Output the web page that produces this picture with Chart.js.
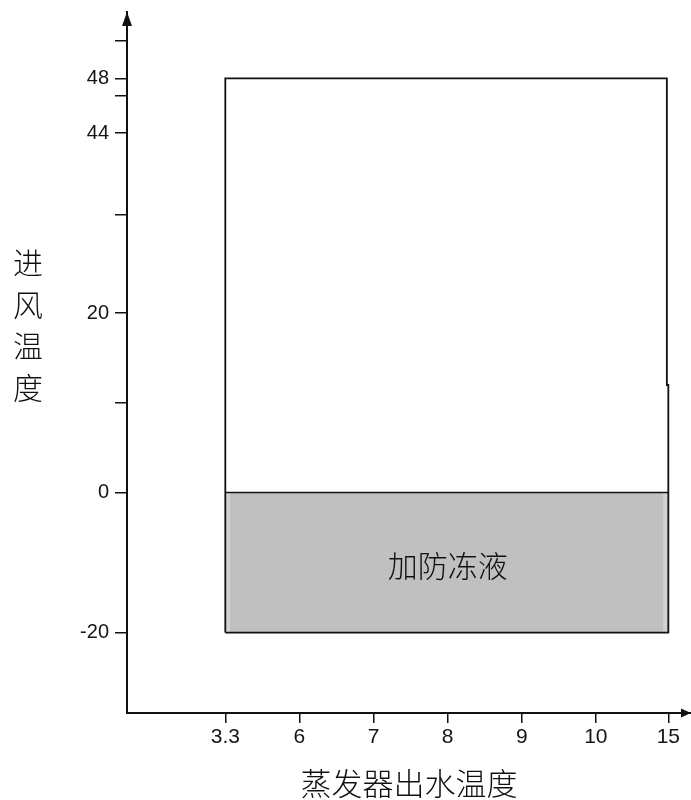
<!DOCTYPE html>
<html>
<head>
<meta charset="utf-8">
<script src="https://cdn.jsdelivr.net/npm/chart.js@4.4.1/dist/chart.umd.min.js"></script>
<style>
  html, body { margin: 0; padding: 0; background: #fff; }
  #wrap { width: 691px; height: 800px; }
</style>
</head>
<body>
<div id="wrap"><canvas id="chart"></canvas></div>
<script>
// x: evaporator leaving water temperature, ticks drawn evenly spaced
const xTicks = [3.3, 6, 7, 8, 9, 10, 15];
const xLabels = ["3.3", "6", "7", "8", "9", "10", "15"];
// y: inlet air temperature, unlabeled ticks get a blank label
const yTicks = [-20, 0, 10, 20, 33, 44, 47, 48, 52];
const yLabels = ["-20", "0", "", "20", "", "44", "", "48", ""];

// operating envelope outline
const envX = [3.3, 3.3, 14.9, 14.9, 15, 15, 3.3];
const envY = [-20, 48, 48, 12, 12, -20, -20];

// antifreeze zone
const glycolX = [3.3, 15];
const glycolInnerX = [3.47, 14.65];
const glycolTop = 0;
const glycolBottom = -20;
const glycolText = "加防冻液";
const glycolTextAt = [8, -10.5];

const xTitle = "蒸发器出水温度";
const yTitle = ["进", "风", "温", "度"];

// the drawing is not to scale, so each axis maps value -> fraction of axis length piecewise
const knots = {
  x: [[-0.28, 0], [3.3, 0.1743], [6, 0.3057], [7, 0.4371], [8, 0.5685], [9, 0.6999], [10, 0.8313], [15, 0.9598], [16.56, 1]],
  y: [[-31.5, 0], [-20, 0.1148], [0, 0.3146], [10, 0.4422], [20, 0.5706], [33, 0.7104], [44, 0.8274], [47, 0.8802], [48, 0.9054], [52, 0.9586], [55.1, 1]]
};

class KnotScale extends Chart.LinearScale {
  decimalFor(v) {
    const k = knots[this.id];
    let i = 0;
    while (i < k.length - 2 && v > k[i + 1][0]) i++;
    const [v0, d0] = k[i], [v1, d1] = k[i + 1];
    return d0 + (v - v0) / (v1 - v0) * (d1 - d0);
  }
  getPixelForValue(v) {
    if (v === null || v === undefined) return NaN;
    return this.getPixelForDecimal(this.decimalFor(v));
  }
  getValueForPixel(p) {
    const k = knots[this.id];
    const d = this.getDecimalForPixel(p);
    let i = 0;
    while (i < k.length - 2 && d > k[i + 1][1]) i++;
    const [v0, d0] = k[i], [v1, d1] = k[i + 1];
    return v0 + (d - d0) / (d1 - d0) * (v1 - v0);
  }
}
KnotScale.id = "knot";
KnotScale.defaults = Chart.LinearScale.defaults;
Chart.register(KnotScale);

const pts = (xs, ys) => xs.map((x, i) => ({ x: x, y: Array.isArray(ys) ? ys[i] : ys }));

const decor = {
  id: "decor",
  afterDraw(chart) {
    const { ctx, chartArea: a, scales: { x, y } } = chart;
    ctx.save();
    ctx.fillStyle = "#111";
    // axis arrows
    ctx.beginPath();
    ctx.moveTo(a.left, a.top);
    ctx.lineTo(a.left - 5, a.top + 14);
    ctx.lineTo(a.left + 5, a.top + 14);
    ctx.closePath();
    ctx.fill();
    ctx.beginPath();
    ctx.moveTo(a.right, a.bottom);
    ctx.lineTo(a.right - 10, a.bottom - 4.5);
    ctx.lineTo(a.right - 10, a.bottom + 4.5);
    ctx.closePath();
    ctx.fill();
    // label inside the grey zone
    ctx.textAlign = "center";
    ctx.textBaseline = "middle";
    ctx.font = '300 30px "Noto Sans CJK SC"';
    ctx.fillText(glycolText, x.getPixelForValue(glycolTextAt[0]), y.getPixelForValue(glycolTextAt[1]));
    // stacked y title
    yTitle.forEach((c, i) => ctx.fillText(c, 28, 263 + i * 41.5));
    ctx.restore();
  }
};

const ctx = document.getElementById("chart").getContext("2d");
// datasets are painted last-to-first, so outlines come first and the pale fill last
const chart = new Chart(ctx, {
  type: "line",
  data: {
    datasets: [
      {
        data: pts(envX, envY),
        borderColor: "#111",
        borderWidth: 1.8,
        fill: false,
        pointRadius: 0,
        tension: 0
      },
      {
        data: pts(glycolX, glycolTop),
        borderColor: "#111",
        borderWidth: 1.5,
        fill: false,
        pointRadius: 0
      },
      {
        data: pts(glycolInnerX, glycolTop),
        fill: { value: glycolBottom },
        backgroundColor: "#c0c0c0",
        borderWidth: 0,
        pointRadius: 0
      },
      {
        data: pts(glycolX, glycolTop),
        fill: { value: glycolBottom },
        backgroundColor: "#d2d2d2",
        borderWidth: 0,
        pointRadius: 0
      }
    ]
  },
  options: {
    responsive: true,
    maintainAspectRatio: false,
    animation: false,
    layout: { padding: { top: 12, left: 0, right: 0, bottom: 0 } },
    plugins: { legend: { display: false }, tooltip: { enabled: false } },
    scales: {
      x: {
        type: "knot",
        min: knots.x[0][0],
        max: knots.x[knots.x.length - 1][0],
        afterBuildTicks: (s) => { s.ticks = xTicks.map((v) => ({ value: v })); },
        afterFit: (s) => { s.height = 87; s.paddingLeft = 0; s.paddingRight = 0; },
        border: { display: true, color: "#111", width: 2 },
        grid: { drawOnChartArea: false, drawTicks: true, tickLength: 10, color: "#111", lineWidth: 1.5 },
        ticks: {
          autoSkip: false,
          maxRotation: 0,
          padding: 2,
          color: "#151515",
          font: { family: "'Liberation Sans', Arial", size: 21 },
          callback: (v, i) => xLabels[i]
        },
        title: {
          display: true,
          text: xTitle,
          color: "#111",
          font: { family: "'Noto Sans CJK SC'", size: 31, weight: 300 },
          padding: { top: 0, bottom: -2 }
        }
      },
      y: {
        type: "knot",
        min: knots.y[0][0],
        max: knots.y[knots.y.length - 1][0],
        afterBuildTicks: (s) => { s.ticks = yTicks.map((v) => ({ value: v })); },
        afterFit: (s) => { s.width = 127; s.paddingTop = 0; s.paddingBottom = 0; },
        border: { display: true, color: "#111", width: 2 },
        grid: { drawOnChartArea: false, drawTicks: true, tickLength: 12, color: "#111", lineWidth: 1.5 },
        ticks: {
          autoSkip: false,
          padding: 6,
          color: "#151515",
          font: { family: "'Liberation Sans', Arial", size: 20 },
          callback: (v, i) => yLabels[i]
        }
      }
    }
  },
  plugins: [decor]
});
</script>
</body>
</html>
